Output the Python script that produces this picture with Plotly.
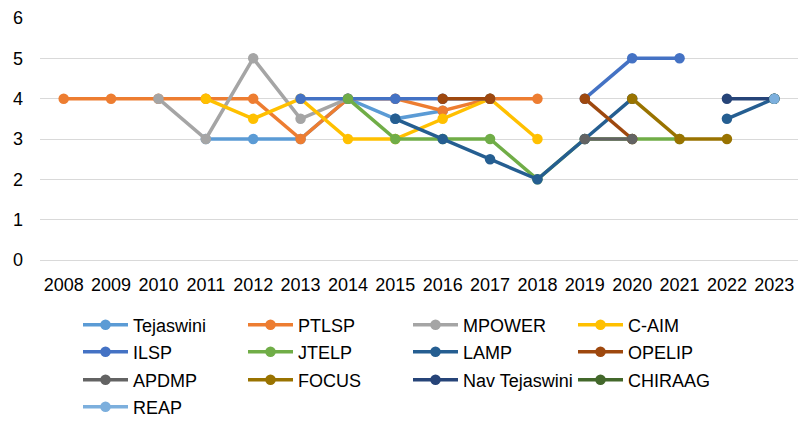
import plotly.graph_objects as go

years = list(range(2008, 2024))
N = None

series_names = ["Tejaswini", "PTLSP", "MPOWER", "C-AIM", "ILSP", "JTELP", "LAMP",
                "OPELIP", "APDMP", "FOCUS", "Nav Tejaswini", "CHIRAAG", "REAP"]
colors = ["#5B9BD5", "#ED7D31", "#A5A5A5", "#FFC000", "#4472C4", "#70AD47", "#255E91",
          "#9E480E", "#636363", "#997300", "#264478", "#43682B", "#7CAFDD"]

#            2008 2009 2010 2011 2012 2013 2014 2015 2016 2017 2018 2019 2020 2021 2022 2023
tejaswini = [N, N, N, 3, 3, 3, 4, 3.5, 3.7, N, N, N, N, N, N, N]
ptlsp     = [4, 4, 4, 4, 4, 3, 4, 4, 3.7, 4, 4, N, N, N, N, N]
mpower    = [N, N, 4, 3, 5, 3.5, 4, N, N, N, N, N, N, N, N, N]
c_aim     = [N, N, N, 4, 3.5, 4, 3, 3, 3.5, 4, 3, N, N, N, N, N]
ilsp      = [N, N, N, N, N, 4, 4, 4, 4, 4, N, 4, 5, 5, N, N]
jtelp     = [N, N, N, N, N, N, 4, 3, 3, 3, 2, 3, 3, 3, N, N]
lamp      = [N, N, N, N, N, N, N, 3.5, 3, 2.5, 2, 3, 4, N, 3.5, 4]
opelip    = [N, N, N, N, N, N, N, N, 4, 4, N, 4, 3, N, N, N]
apdmp     = [N, N, N, N, N, N, N, N, N, N, N, 3, 3, N, N, N]
focus     = [N, N, N, N, N, N, N, N, N, N, N, N, 4, 3, 3, N]
nav_tej   = [N, N, N, N, N, N, N, N, N, N, N, N, N, N, 4, 4]
chiraag   = [N, N, N, N, N, N, N, N, N, N, N, N, N, N, N, 4]
reap      = [N, N, N, N, N, N, N, N, N, N, N, N, N, N, N, 4]

values = [tejaswini, ptlsp, mpower, c_aim, ilsp, jtelp, lamp, opelip, apdmp,
          focus, nav_tej, chiraag, reap]

legend_ids = ["legend", "legend", "legend", "legend",
              "legend2", "legend2", "legend2", "legend2",
              "legend3", "legend3", "legend3", "legend3",
              "legend4"]

fig = go.Figure()
for name, vals, col, lg in zip(series_names, values, colors, legend_ids):
    fig.add_trace(go.Scatter(
        x=years, y=vals, name=name, mode="lines+markers",
        line=dict(color=col, width=3.5),
        marker=dict(color=col, size=10.5),
        connectgaps=False, legend=lg,
    ))

FONT = "Liberation Sans, Arial, sans-serif"
L, R, T, B = 40, 0, 18, 186
plot_h = 446 - T - B
plot_w = 798 - L - R


def py(ypix):
    return (446 - B - ypix) / plot_h


def px(xpix):
    return (xpix - L) / plot_w


leg_common = dict(orientation="h", xanchor="left", yanchor="middle",
                  entrywidth=105, entrywidthmode="pixels", itemwidth=45,
                  font=dict(family=FONT, size=18, color="#000000"),
                  bgcolor="rgba(0,0,0,0)", itemsizing="trace", traceorder="normal")

LEGX = 133 - 55
fig.update_layout(
    width=798, height=446,
    margin=dict(l=L, r=R, t=T, b=B, autoexpand=False),
    paper_bgcolor="white", plot_bgcolor="white",
    font=dict(family=FONT, size=18, color="#000000"),
    showlegend=True,
    legend=dict(x=px(LEGX), y=py(325), **leg_common),
    legend2=dict(x=px(LEGX), y=py(352), **leg_common),
    legend3=dict(x=px(LEGX), y=py(380), **leg_common),
    legend4=dict(x=px(LEGX), y=py(407), **leg_common),
    xaxis=dict(range=[2007.5, 2023.5], tickmode="array", tickvals=years,
               ticktext=[str(y) for y in years], showgrid=False, zeroline=False,
               showline=False, ticks="", ticklabelstandoff=12, automargin=False,
               tickfont=dict(family=FONT, size=18, color="#000000"), fixedrange=True),
    yaxis=dict(range=[0, 6], dtick=1, showgrid=True, gridcolor="#D9D9D9", gridwidth=1,
               zeroline=True, zerolinecolor="#D9D9D9", zerolinewidth=1,
               showline=False, ticks="", ticklabelstandoff=16, automargin=False,
               tickfont=dict(family=FONT, size=18, color="#000000"), fixedrange=True),
)

fig.write_html("out.html", config={"displayModeBar": False},
               post_script="document.body.style.margin='0';document.body.style.overflow='hidden';")
